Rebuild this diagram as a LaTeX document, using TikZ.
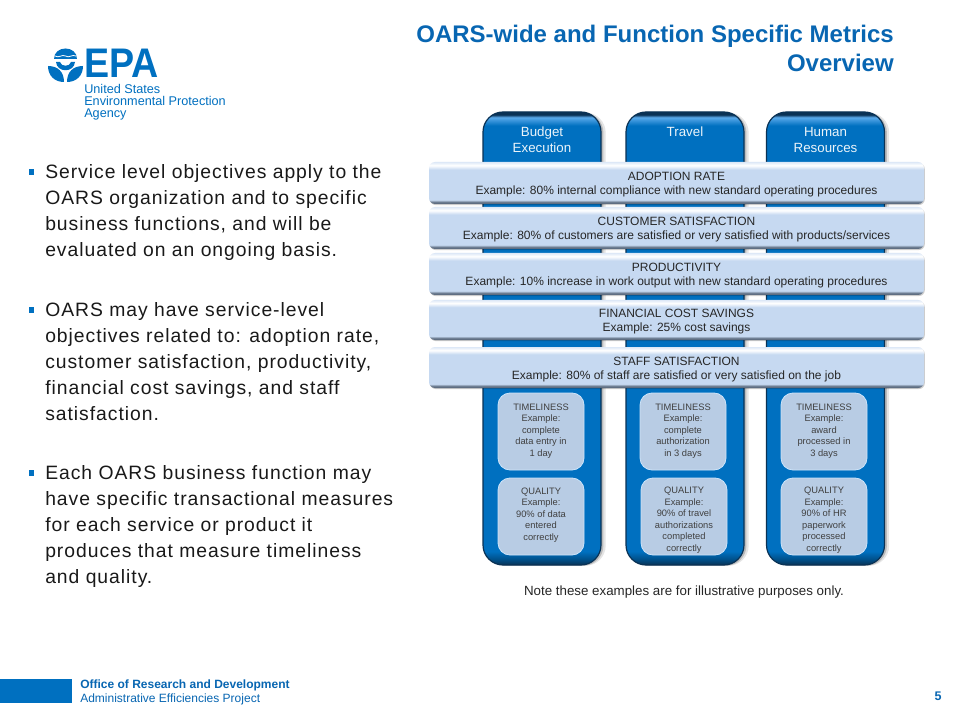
\documentclass[tikz,border=0pt]{standalone}
\usepackage{xcolor}
\usepackage{fontspec}
\setmainfont{Liberation Sans}
\newfontfamily\bodyfont[LetterSpace=5]{Liberation Sans}
\usetikzlibrary{positioning}
\definecolor{epablue}{RGB}{0, 112, 192}
\definecolor{coldark}{RGB}{10, 50, 85}
\definecolor{collight}{RGB}{90, 170, 235}
\definecolor{barmain}{RGB}{198, 217, 241}
\definecolor{barline}{RGB}{95, 110, 130}
\definecolor{innerfill}{RGB}{184, 204, 228}
\definecolor{innerline}{RGB}{205, 228, 250}
\definecolor{titleblue}{RGB}{8, 102, 178}
\pgfdeclareverticalshading{colshade}{100bp}{color(0bp)=(coldark); color(25bp)=(coldark); color(25.6bp)=(epablue!70!black); color(26.5bp)=(epablue); color(73.5bp)=(epablue); color(74.4bp)=(collight); color(74.7bp)=(coldark); color(100bp)=(coldark)}
\pgfdeclareverticalshading{barshade}{100bp}{color(0bp)=(barline); color(27bp)=(barline); color(30bp)=(barmain); color(66bp)=(barmain); color(71bp)=(white); color(75bp)=(barmain!60!white); color(100bp)=(barmain!60!white)}
\begin{document}
\begin{tikzpicture}[x=0.75pt, y=-0.75pt,
   col/.style={draw=coldark, line width=0.9pt, rounded corners=15pt, minimum width=88.5pt, minimum height=339.75pt, inner sep=0pt,
      preaction={fill=black, opacity=0.10, transform canvas={xshift=3.5pt, yshift=-0.5pt}},
      preaction={fill=black, opacity=0.18, transform canvas={xshift=1.8pt, yshift=-0.5pt}},
      preaction={shading=colshade}},
   bar/.style={rounded corners=4.5pt, minimum width=371.25pt, inner sep=0pt, align=center, text=black!85, text height=17.5pt, text depth=0pt, font=\fontsize{9}{10.6}\selectfont,
      preaction={fill=black, opacity=0.2, transform canvas={xshift=0.6pt, yshift=-0.8pt}},
      preaction={shading=barshade}},
   inner/.style={draw=innerline, line width=0.6pt, fill=innerfill, rounded corners=9pt, minimum width=64.5pt, minimum height=57.75pt, inner sep=0pt, align=center, text=black!75, text height=38pt, text depth=0.8pt, font=\fontsize{7}{8.6}\selectfont},
   qual/.style={inner, text height=52.5pt, text depth=0.3pt},
   head/.style={align=center, text=white!92!epablue, font=\fontsize{10}{12}\selectfont},
   body/.style={anchor=north west, align=left, inner sep=0pt, text=black!90, font=\bodyfont\fontsize{14.5}{19.5}\selectfont},
   bull/.style={fill=epablue, minimum size=4pt, inner sep=0pt}]
  \useasboundingbox (0,0) rectangle (960,720);
  \fill[white] (0,0) rectangle (960,720);

  \node[anchor=north east, align=right, inner sep=0pt, text=titleblue, font=\bfseries\fontsize{18}{21.8}\selectfont] (title) at (894,25) {OARS-wide and Function Specific Metrics\\Overview};

  \fill[epablue] (54,59) .. controls (54,45) and (77,45) .. (77,59) -- cycle;
  \draw[white, line width=0.6pt] (55,56) .. controls (59,58.5) and (62,54) .. (65.5,56) .. controls (69,58.5) and (72,54) .. (76,56);
  \fill[epablue] (56,62) .. controls (57,73) and (74,73) .. (75,62) -- (71,62) .. controls (70,67) and (61,67) .. (60,62) -- cycle;
  \fill[epablue] (48,66) .. controls (58,66) and (64,72) .. (64,82) .. controls (55,82) and (48,76) .. (48,66) -- cycle;
  \fill[epablue] (83,66) .. controls (73,66) and (67,72) .. (67,82) .. controls (76,82) and (83,76) .. (83,66) -- cycle;
  \node[anchor=west, inner sep=0pt, xscale=0.91, text=epablue, font=\bfseries\fontsize{31}{31}\selectfont] (epa) at (84,63) {EPA};
  \node[anchor=north west, align=left, inner sep=0pt, text=epablue, font=\fontsize{9.5}{9}\selectfont] (agency) at (84,84.5) {United States\\Environmental Protection\\Agency};

  \node[bull] (b1) at (31.5,172) {}; \node[bull] (b2) at (31.5,310) {}; \node[bull] (b3) at (31.5,473) {};
  \node[body] (p1) at (45,164) {Service level objectives apply to the\\OARS organization and to specific\\business functions, and will be\\evaluated on an ongoing basis.};
  \node[body] (p2) at (45,302) {OARS may have service-level\\objectives related to: adoption rate,\\customer satisfaction, productivity,\\financial cost savings, and staff\\satisfaction.};
  \node[body] (p3) at (45,465) {Each OARS business function may\\have specific transactional measures\\for each service or product it\\produces that measure timeliness\\and quality.};

  \node[col] (c1) at (542,338.5) {}; \node[col] (c2) at (685,338.5) {}; \node[col] (c3) at (825.5,338.5) {};
  \node[head] (h1) at (542,140) {Budget\\Execution}; \node[head] (h2) at (685,132) {Travel}; \node[head] (h3) at (825.5,140) {Human\\Resources};

  \node[bar, minimum height=31.5pt] (r1) at (676.5,183) {ADOPTION RATE\\Example: 80\% internal compliance with new standard operating procedures};
  \node[bar, minimum height=31.5pt] (r2) at (676.5,228) {CUSTOMER SATISFACTION\\Example: 80\% of customers are satisfied or very satisfied with products/services};
  \node[bar, minimum height=31.5pt] (r3) at (676.5,274) {PRODUCTIVITY\\Example: 10\% increase in work output with new standard operating procedures};
  \node[bar, minimum height=30pt] (r4) at (676.5,320) {FINANCIAL COST SAVINGS\\Example: 25\% cost savings};
  \node[bar, minimum height=30.75pt] (r5) at (676.5,367.5) {STAFF SATISFACTION\\Example:  80\% of staff are satisfied or very satisfied on the job};

  \node[inner] (t1) at (541,431.5) {TIMELINESS\\Example:\\complete\\data entry in\\1 day};
  \node[inner] (t2) at (683,431.5) {TIMELINESS\\Example:\\complete\\authorization\\in 3 days};
  \node[inner] (t3) at (824,431.5) {TIMELINESS\\Example:\\award\\processed in\\3 days};
  \node[qual, text height=36pt] (q1) at (541,516.5) {QUALITY\\Example:\\90\% of data\\entered\\correctly};
  \node[qual] (q2) at (684,516.5) {QUALITY\\Example:\\90\% of travel\\authorizations\\completed\\correctly};
  \node[qual] (q3) at (824,516.5) {QUALITY\\Example:\\90\% of HR\\paperwork\\processed\\correctly};

  \node[text=black!85, inner sep=0pt, font=\fontsize{10}{11}\selectfont] (note) at (684,592) {Note these examples are for illustrative purposes only.};

  \node[fill=epablue, minimum width=54pt, minimum height=18pt, inner sep=0pt] (foot) at (36,691) {};
  \node[anchor=north west, align=left, inner sep=0pt, text=titleblue, font=\fontsize{9}{10.4}\selectfont] (office) at (80,679.5) {\textbf{Office of Research and Development}\\Administrative Efficiencies Project};
  \node[inner sep=0pt, text=titleblue, font=\bfseries\fontsize{9.4}{11}\selectfont] (page) at (938,696) {5};
\end{tikzpicture}
\end{document}
